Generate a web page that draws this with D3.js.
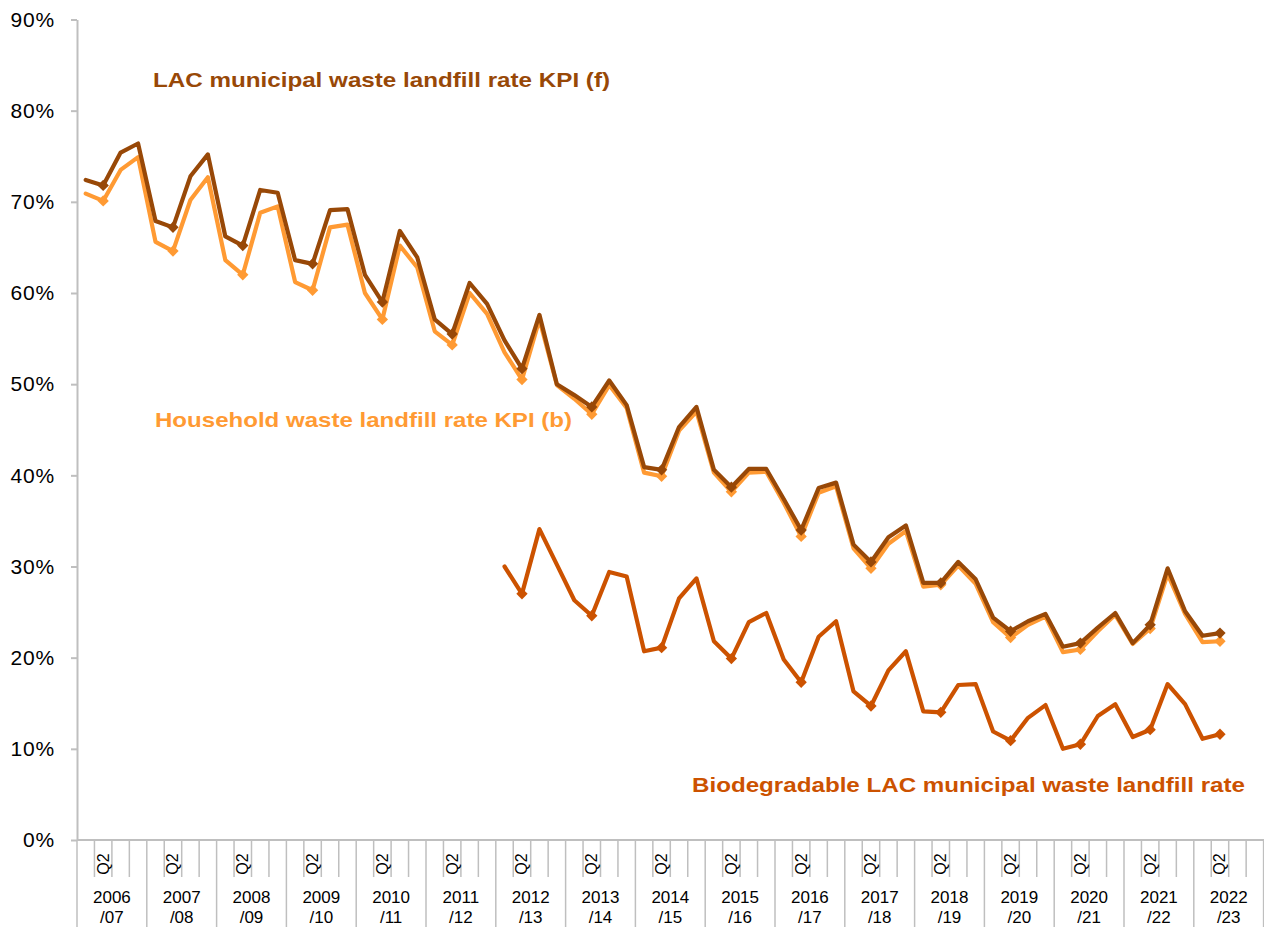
<!DOCTYPE html>
<html>
<head>
<meta charset="utf-8">
<script src="https://cdn.jsdelivr.net/npm/d3@7"></script>
<style>
  html, body { margin: 0; padding: 0; background: #fff; }
  svg { display: block; font-family: "Liberation Sans", Arial, sans-serif; }
</style>
</head>
<body>
<svg id="chart" width="1264" height="927"></svg>
<script>
// ---- Data ----
const years = ["2006/07","2007/08","2008/09","2009/10","2010/11","2011/12","2012/13","2013/14",
  "2014/15","2015/16","2016/17","2017/18","2018/19","2019/20","2020/21","2021/22","2022/23"];
const quarters = ["Q1","Q2","Q3","Q4"];
const yTicks = [0, 0.1, 0.2, 0.3, 0.4, 0.5, 0.6, 0.7, 0.8, 0.9];

// LAC municipal waste landfill rate KPI (f), % from 2006/07 Q1
const lacValues = [
  72.4, 71.8, 75.4, 76.4,
  67.9, 67.2, 72.8, 75.2,
  66.2, 65.2, 71.3, 71.0,
  63.6, 63.2, 69.1, 69.2,
  62.0, 59.0, 66.8, 63.9,
  57.1, 55.5, 61.1, 58.8,
  54.8, 51.7, 57.6, 50.0,
  48.8, 47.5, 50.4, 47.7,
  40.9, 40.6, 45.3, 47.5,
  40.6, 38.7, 40.7, 40.7,
  37.4, 34.0, 38.6, 39.2,
  32.4, 30.5, 33.2, 34.5,
  28.2, 28.2, 30.5, 28.6,
  24.4, 22.9, 24.0, 24.8,
  21.2, 21.6, 23.3, 24.9,
  21.6, 23.6, 29.8, 25.1,
  22.4, 22.7
];
// Household waste landfill rate KPI (b), % from 2006/07 Q1
const householdValues = [
  70.9, 70.1, 73.5, 74.9,
  65.6, 64.6, 70.2, 72.7,
  63.6, 62.0, 68.8, 69.5,
  61.2, 60.3, 67.2, 67.5,
  60.0, 57.1, 65.2, 62.8,
  55.8, 54.3, 60.0, 57.7,
  53.5, 50.5, 57.1, 49.9,
  48.4, 46.7, 49.9, 47.4,
  40.3, 39.9, 44.9, 47.0,
  40.3, 38.2, 40.3, 40.4,
  37.0, 33.3, 38.1, 38.8,
  32.0, 29.8, 32.5, 33.9,
  27.8, 28.0, 30.1, 28.1,
  23.9, 22.2, 23.6, 24.5,
  20.6, 20.9, 22.9, 24.7,
  21.5, 23.2, 29.2, 24.8,
  21.7, 21.8
];
// Biodegradable LAC municipal waste landfill rate, % from 2012/13 Q1
const bioStartIndex = 24;
const bioValues = [
  30.0, 27.0, 34.1, 30.2,
  26.3, 24.6, 29.4, 28.9,
  20.7, 21.1, 26.5, 28.7,
  21.8, 19.9, 23.9, 24.9,
  19.8, 17.3, 22.3, 24.0,
  16.3, 14.7, 18.6, 20.7,
  14.1, 14.0, 17.0, 17.1,
  11.9, 10.9, 13.4, 14.8,
  10.0, 10.5, 13.6, 14.9,
  11.3, 12.1, 17.1, 14.9,
  11.1, 11.6
];

const seriesLabels = {
  lac: "LAC municipal waste landfill rate KPI (f)",
  household: "Household waste landfill rate KPI (b)",
  bio: "Biodegradable LAC municipal waste landfill rate"
};

// ---- Build ----
const categories = [];
years.forEach(yr => quarters.forEach(q => categories.push(yr + " " + q)));

const colors = { lac: "#984807", household: "#FF9A33", bio: "#CC5200" };
const axisColor = "#BFBFBF";

const svg = d3.select("#chart");
const plotLeft = 77, plotBottom = 840, plotTop = 19.5;
const plotRight = plotLeft + categories.length * 17.45;

const x = d3.scaleBand().domain(categories).range([plotLeft, plotRight]).paddingInner(0).paddingOuter(0);
const bw = x.bandwidth();
const y = d3.scaleLinear().domain([0, 0.9]).range([plotBottom, plotTop]);

// Y axis
const yAxis = d3.axisLeft(y).tickValues(yTicks).tickFormat(d3.format(".0%"))
  .tickSize(6).tickSizeOuter(0).tickPadding(16);
const gy = svg.append("g").attr("transform", `translate(${plotLeft},0)`).call(yAxis);
gy.select(".domain").attr("stroke", axisColor).attr("stroke-width", 2);
gy.selectAll(".tick line").attr("stroke", axisColor).attr("stroke-width", 2);
gy.selectAll(".tick text").attr("fill", "#000").style("font-size", "21px")
  .style("letter-spacing", "0.8px")
  .style("font-family", "'Liberation Sans', Arial, sans-serif");

// X axis
const gx = svg.append("g");
gx.append("line").attr("x1", plotLeft).attr("x2", 1264).attr("y1", plotBottom).attr("y2", plotBottom)
  .attr("stroke", axisColor).attr("stroke-width", 2);
const boundaries = d3.range(categories.length + 1);
gx.selectAll("line.qt").data(boundaries).join("line").attr("class", "qt")
  .attr("x1", i => i < categories.length ? x(categories[i]) : plotRight)
  .attr("x2", i => i < categories.length ? x(categories[i]) : plotRight)
  .attr("y1", plotBottom)
  .attr("y2", i => i % 4 === 0 ? 927 : 877)
  .attr("stroke", axisColor).attr("stroke-width", 1.5);
// Q2 labels
gx.selectAll("text.q2").data(years).join("text").attr("class", "q2")
  .attr("transform", d => `translate(${x(d + " Q2") + bw / 2 + 5.5},864) rotate(-90)`)
  .attr("text-anchor", "middle").style("font-size", "16px").attr("fill", "#000")
  .text("Q2");
// Year labels (two lines)
gx.selectAll("text.yr1").data(years).join("text").attr("class", "yr1")
  .attr("text-anchor", "middle").style("font-size", "17px").attr("fill", "#000")
  .attr("x", d => x(d + " Q1") + 2 * bw).attr("y", 903).text(d => d.split("/")[0]);
gx.selectAll("text.yr2").data(years).join("text").attr("class", "yr2")
  .attr("text-anchor", "middle").style("font-size", "17px").attr("fill", "#000")
  .attr("x", d => x(d + " Q1") + 2 * bw).attr("y", 923).text(d => "/" + d.split("/")[1]);

// Lines
const line = d3.line().x(d => x(d.c) + bw / 2).y(d => y(d.v / 100));
const mk = (vals, start) => vals.map((v, i) => ({ c: categories[start + i], v, q: quarters[(start + i) % 4] }));
const series = [
  { key: "household", data: mk(householdValues, 0) },
  { key: "lac", data: mk(lacValues, 0) },
  { key: "bio", data: mk(bioValues, bioStartIndex) }
];
const sq = d3.symbol().type(d3.symbolSquare).size(64);
series.forEach(s => {
  svg.append("path").datum(s.data).attr("d", line)
    .attr("fill", "none").attr("stroke", colors[s.key]).attr("stroke-width", 4.2)
    .attr("stroke-linejoin", "round").attr("stroke-linecap", "round");
  svg.selectAll("path.m-" + s.key).data(s.data.filter(d => d.q === "Q2")).join("path")
    .attr("class", "m-" + s.key)
    .attr("d", sq)
    .attr("transform", d => `translate(${x(d.c) + bw / 2},${y(d.v / 100)}) rotate(45)`)
    .attr("fill", colors[s.key]);
});

// Series labels
const labelStyle = sel => sel.style("font-size", "21px").style("font-weight", "bold")
  .attr("lengthAdjust", "spacingAndGlyphs");
svg.append("text").attr("x", 153).attr("y", 87).attr("textLength", 457)
  .attr("fill", colors.lac).call(labelStyle).text(seriesLabels.lac);
svg.append("text").attr("x", 155).attr("y", 427).attr("textLength", 417)
  .attr("fill", colors.household).call(labelStyle).text(seriesLabels.household);
svg.append("text").attr("x", 692).attr("y", 792).attr("textLength", 553)
  .attr("fill", colors.bio).call(labelStyle).text(seriesLabels.bio);
</script>
</body>
</html>
